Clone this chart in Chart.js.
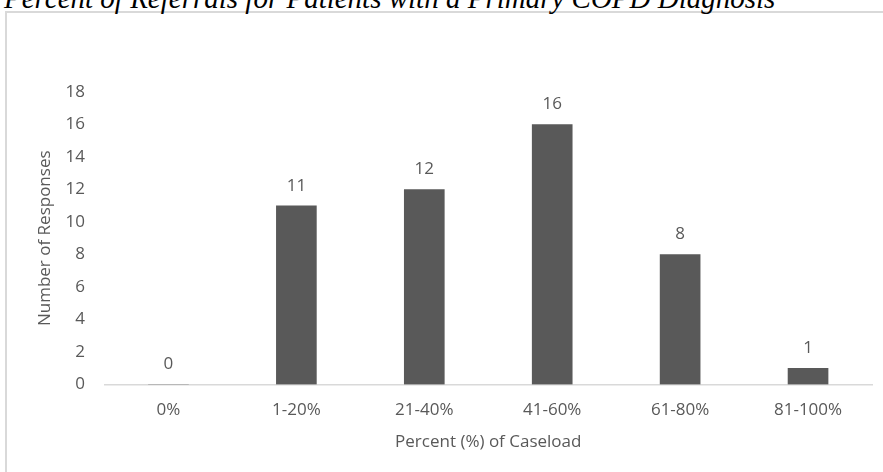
<!DOCTYPE html>
<html>
<head>
<meta charset="utf-8">
<script src="https://cdn.jsdelivr.net/npm/chart.js@4/dist/chart.umd.min.js"></script>
<style>
  html, body { margin: 0; padding: 0; background: #fff; overflow: hidden; }
  body { width: 883px; height: 472px; position: relative; }
  #title {
    position: absolute; left: 4px; top: -18px; margin: 0;
    font-family: "Liberation Serif", "Times New Roman", serif;
    font-style: italic; font-size: 29px; line-height: normal;
    color: #000; white-space: nowrap;
  }
  #frame {
    position: absolute; left: 5px; top: 11px; width: 1000px; height: 1000px;
    border: 2px solid #d9d9d9; box-sizing: border-box;
  }
  #wrap { position: absolute; left: 0; top: 0; width: 883px; height: 472px; }
</style>
</head>
<body>
<div id="frame"></div>
<div id="title">Percent of Referrals for Patients with a Primary COPD Diagnosis</div>
<div id="wrap"><canvas id="chart"></canvas></div>
<script>
// Caseload bands and how many respondents chose each
const categories = ['0%', '1-20%', '21-40%', '41-60%', '61-80%', '81-100%'];
const responses = [0, 11, 12, 16, 8, 1];
const yTicks = [0, 2, 4, 6, 8, 10, 12, 14, 16, 18];

const TEXT = '#595959';
const FONT = '"Open Sans", "Liberation Sans", sans-serif';
const SIZE = 17;

// Writes each bar's count just above it
const valueLabels = {
  id: 'valueLabels',
  afterDatasetsDraw(chart) {
    const ctx = chart.ctx;
    ctx.save();
    ctx.font = SIZE + 'px ' + FONT;
    ctx.fillStyle = TEXT;
    ctx.textAlign = 'center';
    ctx.textBaseline = 'middle';
    chart.getDatasetMeta(0).data.forEach((bar, i) => {
      ctx.fillText(String(responses[i]), bar.x, bar.y - 20);
    });
    ctx.restore();
  }
};

new Chart(document.getElementById('chart'), {
  type: 'bar',
  data: {
    labels: categories,
    datasets: [{
      data: responses,
      backgroundColor: '#595959',
      borderWidth: 0,
      barThickness: 40
    }]
  },
  options: {
    responsive: true,
    maintainAspectRatio: false,
    animation: false,
    layout: { padding: { top: 92, right: 11, bottom: 0, left: 0 } },
    plugins: { legend: { display: false }, tooltip: { enabled: false } },
    scales: {
      x: {
        grid: { display: false, drawTicks: false },
        border: { display: true, color: '#d9d9d9', width: 1.5 },
        ticks: { color: TEXT, font: { family: FONT, size: SIZE }, padding: 15.5 },
        title: {
          display: true, text: 'Percent (%) of Caseload', color: TEXT,
          font: { family: FONT, size: SIZE }, padding: { top: 0, bottom: 20 }
        },
        afterFit(scale) { scale.height = 472 - 384.5; }
      },
      y: {
        min: 0, max: 18,
        grid: { display: false, drawTicks: false },
        border: { display: false },
        afterBuildTicks(scale) { scale.ticks = yTicks.map(v => ({ value: v })); },
        ticks: { color: TEXT, font: { family: FONT, size: SIZE }, padding: 19.5 },
        title: {
          display: true, text: 'Number of Responses', color: TEXT,
          font: { family: FONT, size: SIZE }, padding: { top: 35, bottom: 0 }
        },
        afterFit(scale) { scale.width = 104.5; }
      }
    }
  },
  plugins: [valueLabels]
});
</script>
</body>
</html>
